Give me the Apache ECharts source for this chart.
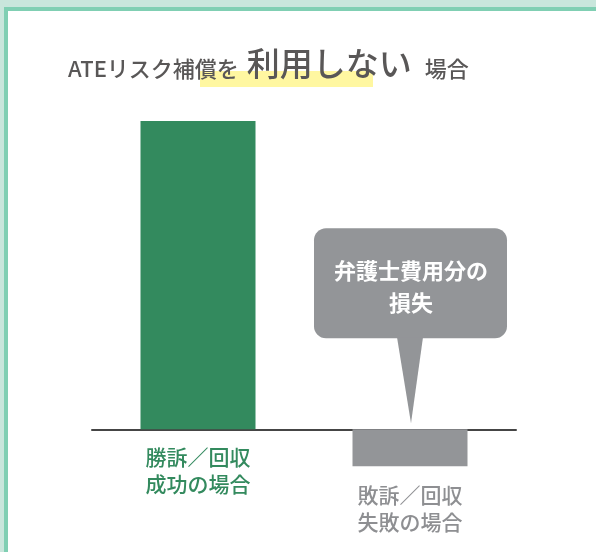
<!DOCTYPE html>
<html>
<head>
<meta charset="utf-8">
<script src="https://cdn.jsdelivr.net/npm/echarts@6/dist/echarts.min.js"></script>
<style>
  html, body { margin: 0; padding: 0; background: #c9e6dc; }
  .card { position: absolute; left: 4px; top: 7px; right: 0; bottom: 0;
          background: #fff; border-left: 4px solid #80cfb3; border-top: 4px solid #80cfb3; }
  #chart { position: absolute; left: 0; top: 0; width: 596px; height: 552px; }
</style>
</head>
<body>
<div class="card"></div>
<div id="chart"></div>
<script>
const FONT = '"Noto Sans CJK JP", "Noto Sans", sans-serif';

// categories and values (conceptual: gain vs. loss)
const categories = ['勝訴／回収\n成功の場合', '敗訴／回収\n失敗の場合'];
const values = [100, -12];
const barColors = ['#338a5e', '#939598'];
const labelColors = ['#338a5e', '#8e8f92'];

// callout anchored on the second bar at zero
const calloutData = [[1, 0]];
const calloutText = '弁護士費用分の\n損失';

const chart = echarts.init(document.getElementById('chart'), null, { renderer: 'canvas' });

chart.setOption({
  animation: false,
  title: {
    left: 63,
    top: 33,
    text: '{a|ATEリスク補償を}{b|利用しない}{a|場合}',
    textStyle: {
      rich: {
        a: { fontSize: 22, fontFamily: FONT, fontWeight: 500, color: '#595757',
             verticalAlign: 'bottom', lineHeight: 38 },
        b: { fontSize: 33, fontFamily: FONT, fontWeight: 500, color: '#595757',
             verticalAlign: 'bottom', lineHeight: 42, padding: [0, 13, 0, 8] },
      },
    },
  },
  graphic: [
    // yellow marker under the emphasised words
    { type: 'rect', left: 200, top: 71, shape: { width: 173, height: 16 },
      style: { fill: '#fff7a1' }, z: 0, silent: true },
  ],
  grid: { left: 92, width: 424, top: 121, height: 370 },
  xAxis: {
    type: 'category',
    data: categories,
    axisLine: { onZero: true, lineStyle: { color: '#454545', width: 2 } },
    axisTick: { show: false },
    axisLabel: { show: false },
  },
  yAxis: {
    type: 'value', min: -20, max: 100,
    show: false,
    splitLine: { show: false },
  },
  series: [
    {
      type: 'bar',
      barWidth: 115,
      data: values.map(function (v, i) {
        return {
          value: v,
          itemStyle: { color: barColors[i] },
          label: { color: labelColors[i], distance: i ? 15 : 14 },
        };
      }),
      label: {
        show: true,
        position: 'bottom',
        fontSize: 21,
        lineHeight: 27,
        fontWeight: 500,
        fontFamily: FONT,
        formatter: function (p) { return p.name; },
      },
      z: 1,
    },
    {
      type: 'custom',
      data: calloutData,
      z: 5,
      renderItem: function (params, api) {
        const p = api.coord([api.value(0), api.value(1)]);
        const fill = '#939598';
        return {
          type: 'group',
          children: [
            { type: 'rect', shape: { x: p[0] - 96, y: p[1] - 201, width: 193, height: 110, r: 12 },
              style: { fill: fill } },
            { type: 'polygon',
              shape: { points: [[p[0] - 13, p[1] - 92], [p[0] + 13, p[1] - 92], [p[0] + 1, p[1] - 6]] },
              style: { fill: fill } },
            { type: 'text', x: p[0] + 1, y: p[1] - 143,
              style: { text: calloutText, fill: '#fff', fontSize: 22, fontWeight: 'bold',
                       fontFamily: FONT, align: 'center', verticalAlign: 'middle', lineHeight: 32 } },
          ],
        };
      },
    },
  ],
});
window.addEventListener('resize', () => chart.resize());
</script>
</body>
</html>
